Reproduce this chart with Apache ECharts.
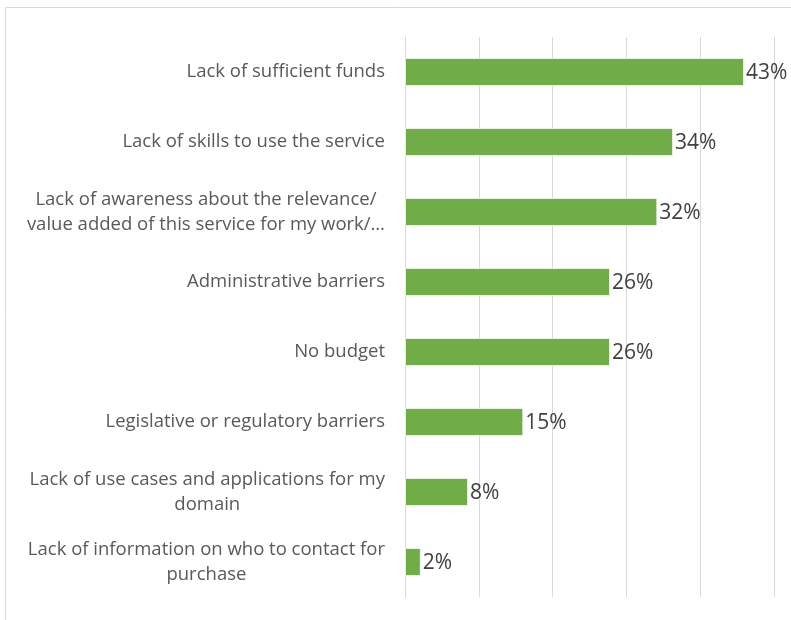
<!DOCTYPE html>
<html>
<head>
<meta charset="utf-8">
<script src="https://cdn.jsdelivr.net/npm/echarts@6/dist/echarts.min.js"></script>
<style>
  html, body { margin: 0; padding: 0; background: #fff; }
  #chart { width: 791px; height: 620px; }
</style>
</head>
<body>
<div id="chart"></div>
<script>
// Barriers to using the service, share of respondents
const categories = [
  'Lack of sufficient funds',
  'Lack of skills to use the service',
  'Lack of awareness about the relevance/\nvalue added of this service for my work/…',
  'Administrative barriers',
  'No budget',
  'Legislative or regulatory barriers',
  'Lack of use cases and applications for my\ndomain',
  'Lack of information on who to contact for\npurchase'
];
const shares = [43, 34, 32, 26, 26, 15, 8, 2];

// Value axis range and grid spacing (percent)
const axisMax = 46.8;
const axisStep = 9.36;

const chart = echarts.init(document.getElementById('chart'), null, { renderer: 'canvas' });

const labelFont = '"Open Sans", sans-serif';

chart.setOption({
  animation: false,
  backgroundColor: '#ffffff',
  graphic: [{
    type: 'rect',
    shape: { x: 5.5, y: 7.5, width: 820, height: 640 },
    style: { fill: 'none', stroke: '#d9d9d9', lineWidth: 1 },
    silent: true,
    z: -1
  }],
  grid: { left: 405, right: 17, top: 37, bottom: 23, containLabel: false },
  xAxis: {
    type: 'value',
    min: 0,
    max: axisMax,
    interval: axisStep,
    axisLabel: { show: false },
    axisTick: { show: false },
    axisLine: { show: false },
    splitLine: { show: true, lineStyle: { color: '#d9d9d9', width: 1 } }
  },
  yAxis: {
    type: 'category',
    inverse: true,
    data: categories,
    axisTick: { show: false },
    axisLine: { show: true, lineStyle: { color: '#d9d9d9', width: 1 } },
    axisLabel: {
      margin: 20,
      align: 'right',
      formatter: function (v) {
        return v.split('\n').map(function (l) { return '{c|' + l + '}'; }).join('\n');
      },
      rich: {
        c: {
          align: 'center',
          color: '#595959',
          fontFamily: labelFont,
          fontSize: 18.5,
          lineHeight: 25
        }
      }
    }
  },
  series: [{
    type: 'bar',
    data: shares,
    barWidth: '40%',
    itemStyle: {
      color: '#70ad47',
      borderColor: 'rgba(255,255,255,0.7)',
      borderWidth: 1
    },
    label: {
      show: true,
      position: 'right',
      distance: 2,
      formatter: '{c}%',
      color: '#404040',
      fontFamily: labelFont,
      fontSize: 21,
      offset: [0, 1]
    }
  }]
});
</script>
</body>
</html>
